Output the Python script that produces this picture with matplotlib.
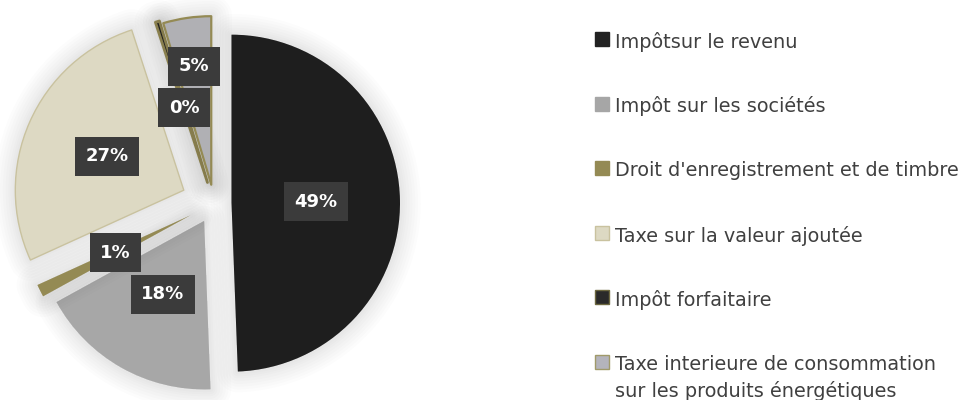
import matplotlib
matplotlib.use("Agg")
import matplotlib.pyplot as plt
import matplotlib.patheffects as pe
from matplotlib.patches import Rectangle

categories = [
    "Impôtsur le revenu",
    "Impôt sur les sociétés",
    "Droit d'enregistrement et de timbre",
    "Taxe sur la valeur ajoutée",
    "Impôt forfaitaire",
    "Taxe interieure de consommation\nsur les produits énergétiques",
]
shares = [49.4, 17.6, 1.2, 26.8, 0.4, 4.6]  # % of receipts

COLORS = ["#1e1e1e", "#a7a7a7", "#948a54", "#ddd9c3", "#262626", "#b0b0b4"]
EDGES = ["#1e1e1e", "#a7a7a7", "#948a54", "#c9c29f", "#948a54", "#948a54"]
EDGE_W = [0, 0, 0, 1.0, 2.0, 1.6]
EXPLODE = [17.5, 20, 26, 33, 22, 19]  # px, pie drawn in pixel-like data units
SWATCH = ["#222222", "#a6a6a6", "#948a54", "#ddd9c3", "#2a2a2a", "#b4b4bc"]
SWATCH_EDGE = ["#222222", "#a6a6a6", "#948a54", "#c9c29f", "#6d6840", "#a09a6a"]

W, H = 965, 400
CX, CY, R = 214, H - 203.5, 168.5

fig = plt.figure(figsize=(W / 100, H / 100), dpi=100)
ax = fig.add_axes([0, 0, 1, 1])

# soft outer shadow: a stack of faint strokes, widest first
glow = [pe.Stroke(linewidth=lw, foreground="#000000", alpha=0.011,
                  joinstyle="round")
        for lw in (30, 26, 22, 18, 14, 10, 7, 4)] + [pe.Normal()]

wedges, _, autotexts = ax.pie(
    shares, explode=EXPLODE, colors=COLORS, startangle=90, counterclock=False,
    radius=R, center=(CX, CY), autopct="%.0f%%", pctdistance=0.5,
    textprops=dict(color="white", fontsize=13, fontweight="bold",
                   family="DejaVu Sans"))

for w in wedges:
    w.set_path_effects(glow)
    w.set_zorder(1)
    w.set_joinstyle("round")
for w, ec, lw in zip(wedges, EDGES, EDGE_W):
    w.set_edgecolor(ec)
    w.set_linewidth(lw)

# nudge the two tiny-slice labels to where the original puts them
for k, f in ((4, 0.93), (5, 1.42)):
    cx, cy = wedges[k].center
    tx, ty = autotexts[k].get_position()
    autotexts[k].set_position((cx + (tx - cx) * f, cy + (ty - cy) * f))

for t in autotexts:
    t.set_bbox(dict(boxstyle="square,pad=0.58", fc="#3b3b3b", ec="none"))
    t.set_zorder(5)

# legend drawn by hand to keep the wide row spacing
row0, pitch = 39, 64.6
for i, (lab, fc, ec) in enumerate(zip(categories, SWATCH, SWATCH_EDGE)):
    yc = H - (row0 + pitch * i)
    ax.add_patch(Rectangle((595, yc - 7), 14, 14, facecolor=fc, edgecolor=ec,
                           linewidth=1.0, zorder=3))
    ax.text(615, yc + 7.2, lab, ha="left", va="top", fontsize=13.9,
            color="#404040", family="DejaVu Sans", linespacing=1.42)

ax.set_xlim(0, W)
ax.set_ylim(0, H)
ax.set_aspect("equal")
ax.axis("off")

fig.savefig("out.png", dpi=100, facecolor="white")
